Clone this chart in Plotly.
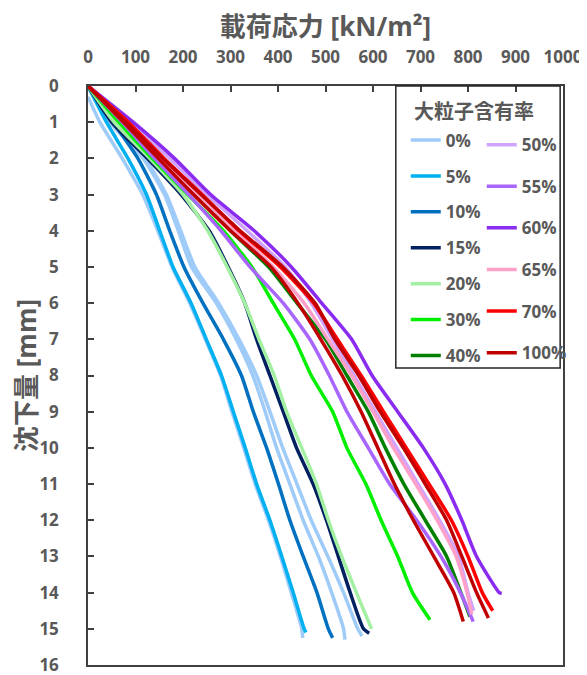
import plotly.graph_objects as go

# ---- data: settlement [mm] (s_*) vs loading stress [kN/m2] (x_*) ----
s_00a = [0.3, 1, 2, 3, 4, 5, 6, 7, 8, 9, 10, 11, 12, 13, 14, 15, 15.25]
x_00a = [0, 25, 72, 115, 147, 177, 214, 247, 279, 303, 328, 352, 380, 405, 428, 450, 452]
s_00b = [0, 1, 2, 3, 4, 5, 6, 7, 8, 9, 10, 11, 12, 13, 14, 15, 15.3]
x_00b = [0, 46, 116, 161, 190, 218, 270, 312, 347, 373, 397, 425, 453, 485, 513, 538, 541]
s_00c = [0, 1, 2, 3, 4, 5, 6, 7, 8, 9, 10, 11, 12, 13, 14, 15, 15.2]
x_00c = [0, 50, 120, 165, 195, 225, 275, 318, 355, 383, 410, 440, 470, 505, 538, 568, 577]
s_05 = [0, 1, 2, 3, 4, 5, 6, 7, 8, 9, 10, 11, 12, 13, 14, 15, 15.1]
x_05 = [0, 39, 84, 123, 151, 179, 217, 249, 281, 306, 331, 355, 383, 408, 432, 455, 459]
s_10 = [0, 1, 2, 3, 4, 5, 6, 7, 8, 9, 10, 11, 12, 13, 14, 15, 15.25]
x_10 = [0, 53, 105, 144, 172, 202, 242, 285, 323, 348, 376, 401, 425, 453, 482, 506, 515]
s_15 = [0, 1, 2, 3, 4, 5, 6, 7, 8, 9, 10, 11, 12, 13, 14, 15, 15.12]
x_15 = [0, 50, 125, 196, 255, 295, 330, 355, 383, 411, 439, 474, 502, 527, 552, 580, 592]
s_20 = [0, 1, 2, 3, 4, 5, 6, 7, 8, 9, 10, 11, 12, 13, 14, 15]
x_20 = [0, 55, 130, 200, 252, 293, 330, 360, 392, 418, 450, 481, 506, 534, 565, 597]
s_30 = [0, 1, 2, 3, 4, 5, 6, 7, 8, 9, 10, 11, 12, 13, 14, 14.75]
x_30 = [0, 65, 135, 210, 285, 345, 390, 435, 470, 515, 545, 585, 617, 652, 683, 720]
s_40 = [0, 1, 2, 3, 4, 5, 6, 7, 8, 9, 10, 11, 12, 13, 14, 14.66]
x_40 = [0, 78, 152, 228, 300, 380, 440, 500, 545, 590, 626, 665, 710, 755, 785, 804]
s_50 = [0, 1, 2, 3, 4, 5, 6, 7, 8, 9, 10, 11, 12, 13, 14, 14.5]
x_50 = [0, 90, 172, 250, 335, 415, 470, 515, 560, 605, 650, 695, 740, 780, 800, 812]
s_55 = [0, 1, 2, 3, 4, 5, 6, 7, 8, 9, 10, 11, 12, 13, 14, 14.8]
x_55 = [0, 72, 140, 212, 280, 341, 411, 467, 508, 545, 590, 635, 692, 743, 784, 811]
s_60 = [0, 1, 2, 3, 4, 5, 6, 7, 8, 9, 10, 11, 12, 13, 14, 14.02]
x_60 = [0, 95, 182, 258, 350, 428, 492, 555, 598, 652, 706, 752, 787, 818, 866, 871]
s_65 = [0, 1, 2, 3, 4, 5, 6, 7, 8, 9, 10, 11, 12, 13, 14, 14.6]
x_65 = [0, 80, 155, 232, 310, 390, 455, 505, 555, 600, 643, 690, 735, 775, 798, 808]
s_70 = [0, 1, 2, 3, 4, 5, 6, 7, 8, 9, 10, 11, 12, 13, 14, 14.5]
x_70 = [0, 85, 160, 240, 318, 405, 475, 525, 575, 622, 670, 718, 765, 800, 830, 852]
s_100a = [0, 1, 2, 3, 4, 5, 6, 7, 8, 9, 10, 11, 12, 13, 14, 14.8]
x_100a = [0, 75, 148, 222, 300, 385, 442, 490, 535, 575, 610, 645, 685, 728, 770, 790]
s_100b = [0, 1, 2, 3, 4, 5, 6, 7, 8, 9, 10, 11, 12, 13, 14, 14.7]
x_100b = [0, 80, 158, 238, 320, 410, 478, 520, 570, 615, 664, 710, 755, 787, 818, 843]

x_ticks = [0, 100, 200, 300, 400, 500, 600, 700, 800, 900, 1000]
y_ticks = list(range(0, 17))

# (label, legend, color, x, s, showlegend)
series = [
    ("0%", "legend", "#9FCBF8", x_00a, s_00a, True),
    ("0%", "legend", "#9FCBF8", x_00b, s_00b, False),
    ("0%", "legend", "#9FCBF8", x_00c, s_00c, False),
    ("5%", "legend", "#00B0F0", x_05, s_05, True),
    ("10%", "legend", "#0070C0", x_10, s_10, True),
    ("15%", "legend", "#002060", x_15, s_15, True),
    ("20%", "legend", "#A3F0A3", x_20, s_20, True),
    ("30%", "legend", "#00F000", x_30, s_30, True),
    ("40%", "legend", "#008000", x_40, s_40, True),
    ("50%", "legend2", "#CFA3FF", x_50, s_50, True),
    ("55%", "legend2", "#A866FF", x_55, s_55, True),
    ("60%", "legend2", "#8A2BF0", x_60, s_60, True),
    ("65%", "legend2", "#FFA0C8", x_65, s_65, True),
    ("70%", "legend2", "#FF0000", x_70, s_70, True),
    ("100%", "legend2", "#C00000", x_100a, s_100a, True),
    ("100%", "legend2", "#C00000", x_100b, s_100b, False),
]

FONT = "Open Sans, Noto Sans CJK JP, sans-serif"
GRAY = "#595959"
AXC = "#404040"

fig = go.Figure()
for name, leg, color, xs, ss, show in series:
    fig.add_trace(go.Scatter(
        x=xs, y=ss, mode="lines", name=name, legend=leg,
        legendgroup=name, showlegend=show,
        line=dict(color=color, width=3.5, shape="spline", smoothing=0.6),
    ))

legfont = dict(family=FONT, size=17, color=GRAY, weight="bold")
fig.update_layout(
    width=579, height=667,
    margin=dict(l=80, r=24, t=78, b=10),
    paper_bgcolor="white", plot_bgcolor="white",
    font=dict(family=FONT, color=GRAY),
    legend=dict(x=0.669, y=0.937, xanchor="left", yanchor="top",
                bgcolor="rgba(0,0,0,0)", borderwidth=0, font=legfont,
                traceorder="grouped", tracegroupgap=10.8, itemwidth=30),
    legend2=dict(x=0.829, y=0.929, xanchor="left", yanchor="top",
                 bgcolor="rgba(0,0,0,0)", borderwidth=0, font=legfont,
                 traceorder="grouped", tracegroupgap=16.5, itemwidth=30),
    xaxis=dict(
        side="top", range=[0, 1000], tickvals=x_ticks, automargin=False,
        ticks="inside", ticklen=6, tickcolor=AXC, tickwidth=1.5,
        showline=True, linecolor=AXC, linewidth=1.5, mirror=True,
        showgrid=False, zeroline=False, ticklabeloverflow="allow",
        tickfont=dict(family=FONT, size=17, color=GRAY, weight="bold"),
        ticklabelstandoff=14,
        title=dict(text="載荷応力 [kN/m²]", standoff=10,
                   font=dict(family=FONT, size=26, color=GRAY, weight="bold")),
    ),
    yaxis=dict(
        range=[16, 0], tickvals=y_ticks, automargin=False,
        ticks="inside", ticklen=6, tickcolor=AXC, tickwidth=1.5,
        showline=True, linecolor=AXC, linewidth=1.5, mirror=True,
        showgrid=False, zeroline=False, ticklabeloverflow="allow",
        tickfont=dict(family=FONT, size=17, color=GRAY, weight="bold"),
        ticklabelstandoff=24,
        title=dict(text="沈下量 [mm]", standoff=12,
                   font=dict(family=FONT, size=26, color=GRAY, weight="bold")),
    ),
    shapes=[dict(type="rect", xref="paper", yref="paper",
                 x0=0.648, x1=0.994, y0=0.513, y1=1.0,
                 line=dict(color="#262626", width=1.5), layer="above")],
    annotations=[dict(text="大粒子含有率", xref="paper", yref="paper",
                      x=0.812, y=0.9556, xanchor="center", yanchor="middle",
                      showarrow=False,
                      font=dict(family=FONT, size=20, color=GRAY, weight="bold"))],
)

fig.write_html("out.html")
